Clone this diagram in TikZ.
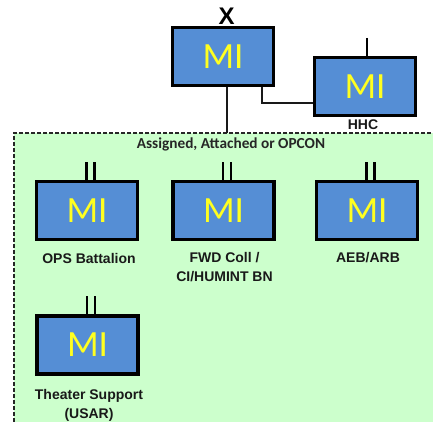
\documentclass[tikz,border=0pt]{standalone}
\usepackage{fontspec}
\setmainfont{Liberation Sans}
\newfontfamily\mifont{Carlito}
\definecolor{boxblue}{HTML}{558ED5}
\definecolor{miyellow}{HTML}{FFFF20}
\definecolor{areagreen}{HTML}{CCFFCC}
\begin{document}
\begin{tikzpicture}[x=1pt,y=-1pt,
  unit/.style={draw=black,line width=3.4pt,fill=boxblue,minimum width=101pt,minimum height=58pt,inner sep=0pt,
     font=\mifont\fontsize{37}{37}\selectfont,text=miyellow},
  lbl/.style={font=\bfseries\fontsize{14}{19}\selectfont,align=center,inner sep=0pt,text=black!90},
  conn/.style={line width=1.5pt,black!90},
  bar/.style={line width=2.8pt,black},
  area/.style={draw=black!85,line width=1.6pt,dash pattern=on 4pt off 2pt}]
\useasboundingbox (0,0) rectangle (433,422);
% assigned area
\fill[areagreen] (14,133) rectangle (433,422);
\draw[area] (14,422) -- (14,133) -- (433,133);
\node[font=\mifont\bfseries\fontsize{15.3}{15}\selectfont,text=black!85,inner sep=0pt] (asg) at (231,144) {Assigned, Attached or OPCON};
% brigade
\node[unit] (bde) at (223,56.5) {MI};
\node[font=\bfseries\fontsize{24}{24}\selectfont,inner sep=0pt] (bdex) at (226.5,16.5) {X};
% HHC
\node[unit] (hhc) at (365,86.5) {MI};
\coordinate (hhcI) at (367,38);
\draw[bar] (hhcI) -- (hhc.north -| hhcI);
\node[lbl] (hhcl) at (363,125) {HHC};
% connectors from brigade
\coordinate (bdedown) at (227,133);
\draw[conn] (bde.south -| bdedown) -- (bdedown);
\draw[conn] (bde.south -| 262,0) |- (hhc.west |- 0,103);
% subordinate units
\node[unit] (ops) at (87,210.5) {MI};
\node[unit] (fwd) at (223.5,210.5) {MI};
\node[unit] (aeb) at (367,210.5) {MI};
\node[unit] (ts) at (87.5,345) {MI};
\foreach \n in {ops,fwd,aeb,ts}{
  \draw[bar] ([xshift=-0.5pt]\n.north) -- ++(0,-18);
  \draw[bar] ([xshift=7.5pt]\n.north) -- ++(0,-18);
}
\node[lbl] (opsl) at (89,258) {OPS Battalion};
\node[lbl,anchor=north] (fwdl) at (224.5,252) {FWD Coll /\\CI/HUMINT BN};
\node[lbl] (aebl) at (368,258) {AEB/ARB};
\node[lbl,anchor=north] (tsl) at (89,389) {Theater Support\\(USAR)};
\end{tikzpicture}
\end{document}
